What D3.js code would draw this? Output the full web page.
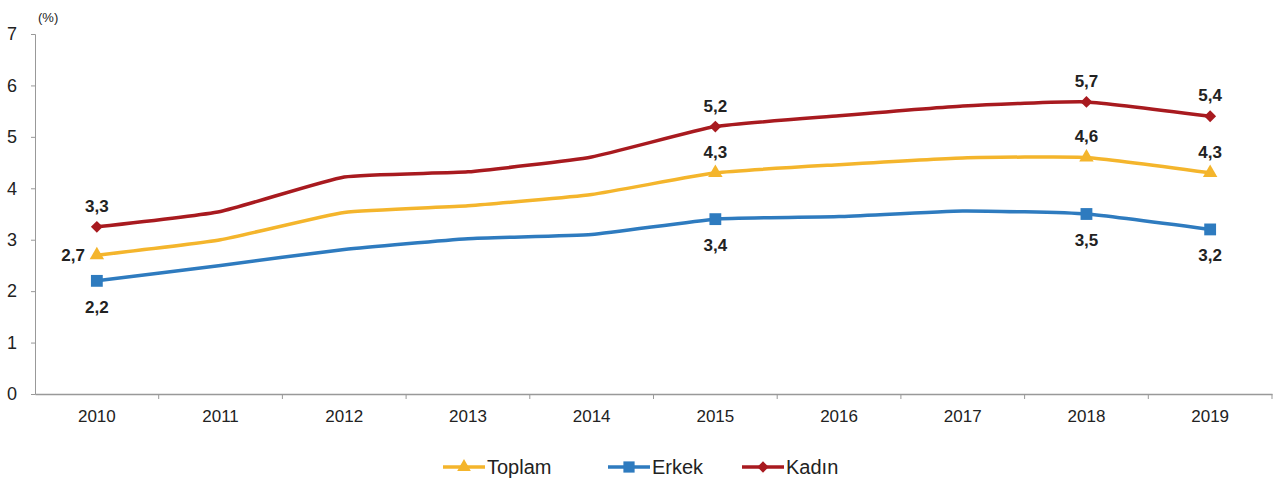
<!DOCTYPE html>
<html>
<head>
<meta charset="utf-8">
<script src="https://cdn.jsdelivr.net/npm/d3@7"></script>
<style>
  body { margin: 0; background: #fff; }
  text { font-family: "Liberation Sans", Arial, sans-serif; fill: #222; }
</style>
</head>
<body>
<div id="chart"></div>
<script>
// chart data
const years = ['2010', '2011', '2012', '2013', '2014', '2015', '2016', '2017', '2018', '2019'];
const toplam = [2.7, 3.0, 3.53, 3.66, 3.88, 4.3, 4.46, 4.59, 4.6, 4.3];
const erkek = [2.2, 2.5, 2.81, 3.02, 3.1, 3.4, 3.45, 3.56, 3.5, 3.2];
const kadin = [3.25, 3.55, 4.22, 4.32, 4.61, 5.2, 5.41, 5.6, 5.68, 5.4];
const labeledYears = ['2010', '2015', '2018', '2019'];
const yTicks = [0, 1, 2, 3, 4, 5, 6, 7];

const width = 1283, height = 486;
const margin = { top: 34, right: 11, bottom: 92, left: 35 };

const svg = d3.select('#chart').append('svg')
    .attr('width', width)
    .attr('height', height);

const x = d3.scaleBand()
    .domain(years)
    .range([margin.left, width - margin.right]);

const y = d3.scaleLinear()
    .domain([0, 7])
    .range([height - margin.bottom, margin.top]);

// y axis
const yAxis = svg.append('g')
    .attr('transform', `translate(${margin.left},0)`)
    .call(d3.axisLeft(y).tickValues(yTicks).tickFormat(d3.format('d')).tickSize(4).tickPadding(14));
yAxis.selectAll('text').style('font-size', '18px').attr('fill', '#222');
yAxis.selectAll('line, path').attr('stroke', '#999');

// x axis, ticks between categories
const xAxis = svg.append('g')
    .attr('transform', `translate(0,${y(0)})`)
    .call(d3.axisBottom(x).tickSize(0).tickPadding(16));
xAxis.selectAll('text').style('font-size', '17px').attr('fill', '#222');
xAxis.select('path').attr('stroke', '#999').attr('stroke-width', 1.5);
xAxis.selectAll('.sep')
    .data(years.slice(1).concat(['end']))
    .join('line')
    .attr('class', 'sep')
    .attr('x1', (d, i) => x(years[i]) + x.bandwidth())
    .attr('x2', (d, i) => x(years[i]) + x.bandwidth())
    .attr('y1', 0)
    .attr('y2', 5)
    .attr('stroke', '#999');

svg.append('text')
    .attr('x', margin.left + 3)
    .attr('y', 22)
    .style('font-size', '13px')
    .text('(%)');

const fmt = v => d3.format('.1f')(v).replace('.', ',');

const series = [
  { name: 'Toplam', values: toplam, color: '#f4b52c', symbol: d3.symbolTriangle, size: 90, labelPos: 'above' },
  { name: 'Erkek', values: erkek, color: '#2e7bbf', symbol: d3.symbolSquare, size: 140, labelPos: 'below' },
  { name: 'Kadın', values: kadin, color: '#a81a1f', symbol: d3.symbolDiamond2 || d3.symbolDiamond, size: 90, labelPos: 'above' }
];

const line = d3.line()
    .x((d, i) => x(years[i]) + x.bandwidth() / 2)
    .y(d => y(d))
    .curve(d3.curveCardinal.tension(0.55));

series.forEach(s => {
  svg.append('path')
      .datum(s.values)
      .attr('fill', 'none')
      .attr('stroke', s.color)
      .attr('stroke-width', 3.5)
      .attr('d', line);

  const pts = s.values.map((v, i) => ({ v, year: years[i] }))
      .filter(p => labeledYears.includes(p.year));

  svg.selectAll(null)
      .data(pts)
      .join('path')
      .attr('transform', p => `translate(${x(p.year) + x.bandwidth() / 2},${y(p.v)})`)
      .attr('d', d3.symbol().type(s.symbol).size(s.size))
      .attr('fill', s.color);

  svg.selectAll(null)
      .data(pts)
      .join('text')
      .attr('x', p => {
        const cx = x(p.year) + x.bandwidth() / 2;
        if (s.name === 'Toplam' && p.year === '2010') return cx - 12;
        return cx;
      })
      .attr('y', p => {
        if (s.name === 'Toplam' && p.year === '2010') return y(p.v) + 6;
        return s.labelPos === 'above' ? y(p.v) - 15 : y(p.v) + 32;
      })
      .attr('text-anchor', p => (s.name === 'Toplam' && p.year === '2010') ? 'end' : 'middle')
      .style('font-size', '17px')
      .style('font-weight', 'bold')
      .text(p => fmt(p.v));
});

// legend
const legend = svg.append('g');
const legendX = [443, 608, 742];
series.forEach((s, i) => {
  const g = legend.append('g').attr('transform', `translate(${legendX[i]},467)`);
  g.append('line')
      .attr('x1', 0).attr('x2', 42)
      .attr('stroke', s.color).attr('stroke-width', 3.5);
  g.append('path')
      .attr('transform', 'translate(21,0)')
      .attr('d', d3.symbol().type(s.symbol).size(s.size * 0.9))
      .attr('fill', s.color);
  g.append('text')
      .attr('x', 44)
      .attr('y', 7)
      .style('font-size', '20px')
      .text(s.name);
});
</script>
</body>
</html>
